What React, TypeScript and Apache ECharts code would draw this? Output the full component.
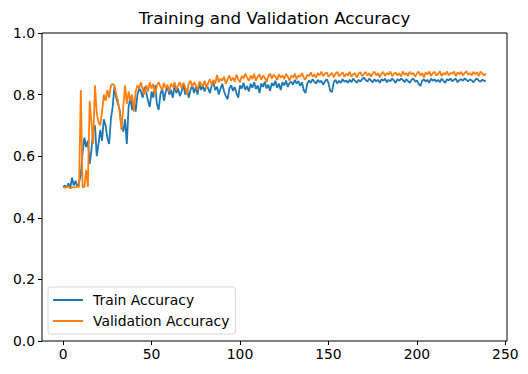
import React, { useEffect, useRef } from "react";
import * as echarts from "echarts";

const titleText = "Training and Validation Accuracy";
const seriesNames = ["Train Accuracy", "Validation Accuracy"];
const xTicks = [0, 50, 100, 150, 200, 250];

const trainAcc = [
  0.500, 0.505, 0.498, 0.512, 0.495, 0.530, 0.505, 0.520, 0.500, 0.515,
  0.540, 0.610, 0.660, 0.630, 0.650, 0.575, 0.620, 0.690, 0.700, 0.600,
  0.640, 0.685, 0.650, 0.720, 0.700, 0.660, 0.640, 0.720, 0.760, 0.826,
  0.790, 0.770, 0.750, 0.700, 0.680, 0.720, 0.640, 0.760, 0.790, 0.750,
  0.780, 0.745, 0.800, 0.820, 0.810, 0.790, 0.825, 0.805, 0.780, 0.760,
  0.810, 0.790, 0.830, 0.770, 0.750, 0.800, 0.820, 0.780, 0.810, 0.825,
  0.800, 0.815, 0.790, 0.830, 0.805, 0.820, 0.795, 0.810, 0.835, 0.800,
  0.820, 0.790, 0.815, 0.830, 0.805, 0.825, 0.800, 0.835, 0.815, 0.828,
  0.810, 0.832, 0.820, 0.805, 0.830, 0.838, 0.815, 0.826, 0.800, 0.820,
  0.835, 0.810, 0.795, 0.785, 0.820, 0.830, 0.812, 0.825, 0.805, 0.790,
  0.830, 0.820, 0.838, 0.815, 0.828, 0.810, 0.835, 0.822, 0.840, 0.818,
  0.830, 0.805, 0.836, 0.825, 0.842, 0.820, 0.832, 0.812, 0.838, 0.828,
  0.845, 0.822, 0.836, 0.815, 0.840, 0.830, 0.846, 0.825, 0.838, 0.842,
  0.832, 0.848, 0.836, 0.844, 0.828, 0.840, 0.815, 0.805, 0.835, 0.846,
  0.838, 0.850, 0.842, 0.836, 0.848, 0.840, 0.845, 0.832, 0.843, 0.850,
  0.838, 0.812, 0.808, 0.840, 0.848, 0.836, 0.845, 0.838, 0.850, 0.842,
  0.846, 0.838, 0.848, 0.840, 0.852, 0.845, 0.838, 0.848, 0.842, 0.850,
  0.855, 0.848, 0.842, 0.852, 0.846, 0.840, 0.850, 0.843, 0.848, 0.838,
  0.850, 0.845, 0.852, 0.840, 0.848, 0.843, 0.852, 0.846, 0.838, 0.850,
  0.845, 0.852, 0.848, 0.840, 0.850, 0.844, 0.838, 0.848, 0.852, 0.842,
  0.846, 0.835, 0.828, 0.845, 0.850, 0.842, 0.848, 0.838, 0.852, 0.845,
  0.850, 0.842, 0.848, 0.840, 0.852, 0.845, 0.838, 0.850, 0.846, 0.852,
  0.843, 0.848, 0.852, 0.840, 0.847, 0.850, 0.845, 0.852, 0.848, 0.843,
  0.850, 0.846, 0.840, 0.848, 0.852, 0.845, 0.842, 0.849, 0.844, 0.846,
];

const valAcc = [
  0.500, 0.498, 0.500, 0.502, 0.495, 0.500, 0.498, 0.500, 0.502, 0.500,
  0.815, 0.500, 0.500, 0.555, 0.500, 0.780, 0.710, 0.640, 0.830, 0.740,
  0.710, 0.700, 0.745, 0.800, 0.780, 0.815, 0.790, 0.830, 0.835, 0.830,
  0.800, 0.780, 0.740, 0.685, 0.760, 0.830, 0.770, 0.810, 0.780, 0.800,
  0.745, 0.810, 0.830, 0.820, 0.840, 0.815, 0.800, 0.830, 0.810, 0.840,
  0.820, 0.835, 0.800, 0.830, 0.840, 0.825, 0.815, 0.838, 0.820, 0.832,
  0.810, 0.835, 0.825, 0.840, 0.815, 0.830, 0.840, 0.820, 0.838, 0.825,
  0.800, 0.836, 0.845, 0.825, 0.840, 0.830, 0.815, 0.842, 0.835, 0.828,
  0.845, 0.820, 0.838, 0.850, 0.830, 0.848, 0.835, 0.864, 0.840, 0.852,
  0.845, 0.858, 0.835, 0.850, 0.862, 0.845, 0.855, 0.842, 0.865, 0.850,
  0.840, 0.860, 0.852, 0.868, 0.855, 0.845, 0.862, 0.850, 0.868, 0.845,
  0.858, 0.866, 0.848, 0.862, 0.855, 0.840, 0.860, 0.868, 0.852, 0.865,
  0.858, 0.848, 0.866, 0.855, 0.862, 0.850, 0.868, 0.858, 0.845, 0.862,
  0.855, 0.868, 0.850, 0.862, 0.858, 0.870, 0.855, 0.848, 0.865, 0.860,
  0.872, 0.858, 0.866, 0.855, 0.870, 0.862, 0.875, 0.860, 0.868, 0.872,
  0.858, 0.865, 0.870, 0.856, 0.868, 0.874, 0.860, 0.866, 0.872, 0.858,
  0.868, 0.862, 0.874, 0.858, 0.866, 0.870, 0.855, 0.868, 0.873, 0.860,
  0.866, 0.874, 0.862, 0.870, 0.858, 0.868, 0.875, 0.862, 0.870, 0.856,
  0.868, 0.874, 0.860, 0.870, 0.865, 0.875, 0.860, 0.868, 0.872, 0.862,
  0.870, 0.858, 0.875, 0.864, 0.870, 0.860, 0.874, 0.866, 0.870, 0.858,
  0.868, 0.875, 0.862, 0.870, 0.856, 0.872, 0.866, 0.875, 0.860, 0.870,
  0.874, 0.862, 0.868, 0.876, 0.860, 0.870, 0.865, 0.875, 0.862, 0.870,
  0.868, 0.875, 0.860, 0.872, 0.866, 0.874, 0.862, 0.870, 0.876, 0.864,
  0.870, 0.862, 0.874, 0.866, 0.872, 0.860, 0.875, 0.868, 0.862, 0.868,
];

const FONT = "DejaVu Sans";

export default function App() {
  const ref = useRef<HTMLDivElement>(null);
  useEffect(() => {
    if (!ref.current) return;
    const chart = echarts.init(ref.current, null, { renderer: "svg" });
    const toPairs = (arr: number[]) => arr.map((v, i) => [i, v]);
    chart.setOption({
      animation: false,
      backgroundColor: "#fff",
      textStyle: { fontFamily: FONT },
      graphic: [
        {
          type: "text",
          x: 274.5,
          y: 18,
          style: {
            text: titleText,
            font: `16.7px '${FONT}'`,
            fill: "#000",
            textAlign: "center",
            textVerticalAlign: "middle",
          },
        },
      ],
      grid: {
        left: 42,
        right: 21,
        top: 33,
        bottom: 33,
        show: true,
        borderColor: "#000",
        borderWidth: 1,
        backgroundColor: "transparent",
      },
      legend: {
        orient: "vertical",
        left: 48,
        top: 287,
        data: seriesNames,
        icon: "rect",
        itemWidth: 30,
        itemHeight: 2,
        itemGap: 5,
        padding: [5, 6, 5, 5],
        backgroundColor: "#fff",
        borderColor: "#d9d9d9",
        borderWidth: 1,
        borderRadius: 3,
        textStyle: {
          fontFamily: FONT,
          fontSize: 13.9,
          color: "#000",
          lineHeight: 16,
          padding: [0, 0, 0, 5],
        },
      },
      xAxis: {
        type: "value",
        min: -11.95,
        max: 250.95,
        splitLine: { show: false },
        axisLine: { show: false, onZero: false },
        axisTick: {
          show: true,
          length: 4,
          lineStyle: { color: "#000" },
          customValues: xTicks,
        },
        axisLabel: {
          color: "#000",
          fontSize: 13.9,
          fontFamily: FONT,
          margin: 6,
          customValues: xTicks,
        },
      },
      yAxis: {
        type: "value",
        min: 0,
        max: 1,
        interval: 0.2,
        splitLine: { show: false },
        axisLine: { show: false, onZero: false },
        axisTick: { show: true, length: 4, lineStyle: { color: "#000" } },
        axisLabel: {
          color: "#000",
          fontSize: 13.9,
          fontFamily: FONT,
          margin: 7,
          formatter: (v: number) => v.toFixed(1),
        },
      },
      series: [
        {
          name: seriesNames[0],
          type: "line",
          data: toPairs(trainAcc),
          symbol: "none",
          color: "#1f77b4",
          lineStyle: { width: 1.8, color: "#1f77b4" },
        },
        {
          name: seriesNames[1],
          type: "line",
          data: toPairs(valAcc),
          symbol: "none",
          color: "#ff7f0e",
          lineStyle: { width: 1.8, color: "#ff7f0e" },
        },
      ],
    });
    return () => chart.dispose();
  }, []);
  return (
    <div
      ref={ref}
      style={{ position: "fixed", left: 0, top: 0, width: 528, height: 374 }}
    />
  );
}
